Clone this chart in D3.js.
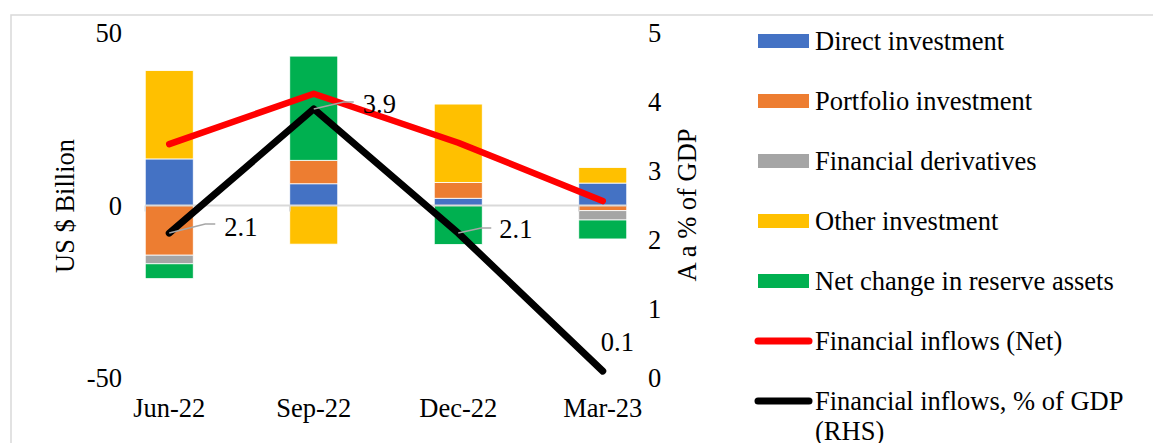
<!DOCTYPE html>
<html>
<head>
<meta charset="utf-8">
<script src="https://cdn.jsdelivr.net/npm/d3@7/dist/d3.min.js"></script>
<style>
  html, body { margin: 0; padding: 0; background: #fff; }
  svg { display: block; }
  text { font-family: "Liberation Serif", "Times New Roman", serif; fill: #000; }
</style>
</head>
<body>
<svg id="chart" width="1153" height="443"></svg>
<script>
// ---- Data ----
const categories = ["Jun-22", "Sep-22", "Dec-22", "Mar-23"];
const directInvestment = [13.5, 6.3, 2.1, 6.5];
const portfolioInvestment = [-14.4, 6.8, 4.6, -1.5];
const financialDerivatives = [-2.5, 0.0, 0.0, -2.7];
const otherInvestment = [25.6, -11.2, 22.7, 4.5];
const reserveAssets = [-4.3, 30.2, -11.3, -5.5];
const financialInflowsNet = [17.8, 32.4, 18.2, 1.3];
const inflowsPctGDP = [2.1, 3.9, 2.1, 0.1];
const leftTicks = [-50, 0, 50];
const rightTicks = [0, 1, 2, 3, 4, 5];

const seriesNames = ["Direct investment", "Portfolio investment", "Financial derivatives",
  "Other investment", "Net change in reserve assets"];
const seriesValues = [directInvestment, portfolioInvestment, financialDerivatives,
  otherInvestment, reserveAssets];
const colors = ["#4472C4", "#ED7D31", "#A5A5A5", "#FFC000", "#00B050"];

// ---- Layout ----
const svg = d3.select("#chart");
const fontSize = 26.5;

const x = d3.scalePoint().domain(categories).range([97, 675]).padding(0.5);
const yL = d3.scaleLinear().domain([-50, 50]).range([378, 33]);
const yR = d3.scaleLinear().domain([0, 5]).range([378, 33]);
const barW = 48;

// chart border
svg.append("rect").attr("x", 11).attr("y", 15).attr("width", 1160).attr("height", 450)
  .attr("fill", "none").attr("stroke", "#d9d9d9").attr("stroke-width", 1.5);

// stacked bars
const rows = categories.map((c, i) => {
  const r = { cat: c };
  seriesNames.forEach((s, k) => r[s] = seriesValues[k][i]);
  return r;
});
const stack = d3.stack().keys(seriesNames).offset(d3.stackOffsetDiverging);
const stacked = stack(rows);

const gBars = svg.append("g");
stacked.forEach((layer, k) => {
  gBars.selectAll(null).data(layer).enter().append("rect")
    .attr("x", d => x(d.data.cat) - barW / 2)
    .attr("width", barW)
    .attr("y", d => yL(Math.max(d[0], d[1])))
    .attr("height", d => Math.abs(yL(d[0]) - yL(d[1])))
    .attr("fill", colors[k])
    .attr("stroke", "#fff").attr("stroke-width", 0.8);
});

// zero line + ticks
const x0 = x(categories[0]) - barW / 2, x1 = x(categories[categories.length - 1]) + barW / 2;
svg.append("line").attr("x1", x0).attr("x2", x1).attr("y1", yL(0)).attr("y2", yL(0))
  .attr("stroke", "#d9d9d9").attr("stroke-width", 2);
categories.forEach(c => {
  svg.append("line").attr("x1", x(c) - barW / 2).attr("x2", x(c) - barW / 2)
    .attr("y1", yL(0)).attr("y2", yL(0) + 6)
    .attr("stroke", "#d9d9d9").attr("stroke-width", 1.5);
});

// left axis
const gL = svg.append("g");
gL.selectAll("text").data(leftTicks).enter().append("text")
  .attr("x", 122).attr("y", d => yL(d) + 9)
  .attr("text-anchor", "end").attr("font-size", fontSize)
  .text(d => d);
svg.append("text").attr("transform", "translate(74,206) rotate(-90)")
  .attr("text-anchor", "middle").attr("font-size", fontSize).text("US $ Billion");

// right axis
const gR = svg.append("g");
gR.selectAll("text").data(rightTicks).enter().append("text")
  .attr("x", 648).attr("y", d => yR(d) + 9)
  .attr("text-anchor", "start").attr("font-size", fontSize)
  .text(d => d);
svg.append("text").attr("transform", "translate(696,205) rotate(-90)")
  .attr("text-anchor", "middle").attr("font-size", fontSize).text("A a % of GDP");

// category labels
svg.append("g").selectAll("text").data(categories).enter().append("text")
  .attr("x", d => x(d)).attr("y", 417)
  .attr("text-anchor", "middle").attr("font-size", fontSize).text(d => d);

// red line
const lineL = d3.line().x((d, i) => x(categories[i])).y(d => yL(d));
svg.append("path").attr("d", lineL(financialInflowsNet))
  .attr("fill", "none").attr("stroke", "#FF0000").attr("stroke-width", 6.5)
  .attr("stroke-linecap", "round").attr("stroke-linejoin", "round");

// black line
const lineR = d3.line().x((d, i) => x(categories[i])).y(d => yR(d));
svg.append("path").attr("d", lineR(inflowsPctGDP))
  .attr("fill", "none").attr("stroke", "#000").attr("stroke-width", 7)
  .attr("stroke-linecap", "round").attr("stroke-linejoin", "round");

// data labels (offsets from the point)
const labelOffsets = [
  { lx: 46, ly: -9, tx: 55, ty: 3, leader: true },
  { lx: 40, ly: -7, tx: 49, ty: 4, leader: true },
  { lx: 33, ly: -5, tx: 41, ty: 5, leader: true },
  { lx: 0, ly: 0, tx: -2, ty: -20, leader: false }
];
inflowsPctGDP.forEach((v, i) => {
  const px = x(categories[i]), py = yR(v), o = labelOffsets[i];
  if (o.leader) {
    svg.append("path")
      .attr("d", `M${px},${py} L${px + o.lx - 10},${py + o.ly} L${px + o.lx},${py + o.ly}`)
      .attr("fill", "none").attr("stroke", "#A6A6A6").attr("stroke-width", 1.5);
  }
  svg.append("text").attr("x", px + o.tx).attr("y", py + o.ty)
    .attr("font-size", fontSize).text(d3.format(".1f")(v));
});

// legend
const legendItems = seriesNames.map((n, k) => ({ name: n, color: colors[k], type: "bar" }))
  .concat([
    { name: "Financial inflows (Net)", color: "#FF0000", type: "line" },
    { name: ["Financial inflows, % of GDP", "(RHS)"], color: "#000", type: "line" }
  ]);
const lg = svg.append("g");
legendItems.forEach((it, k) => {
  const cy = 41 + k * 60;
  if (it.type === "bar") {
    lg.append("rect").attr("x", 758).attr("y", cy - 7).attr("width", 51).attr("height", 14)
      .attr("fill", it.color);
  } else {
    lg.append("line").attr("x1", 758).attr("x2", 809).attr("y1", cy).attr("y2", cy)
      .attr("stroke", it.color).attr("stroke-width", 7).attr("stroke-linecap", "round");
  }
  const t = lg.append("text").attr("x", 815).attr("y", cy + 9).attr("font-size", fontSize);
  const lines = Array.isArray(it.name) ? it.name : [it.name];
  lines.forEach((ln, j) => {
    t.append("tspan").attr("x", 815).attr("dy", j === 0 ? 0 : 30).text(ln);
  });
});
</script>
</body>
</html>
